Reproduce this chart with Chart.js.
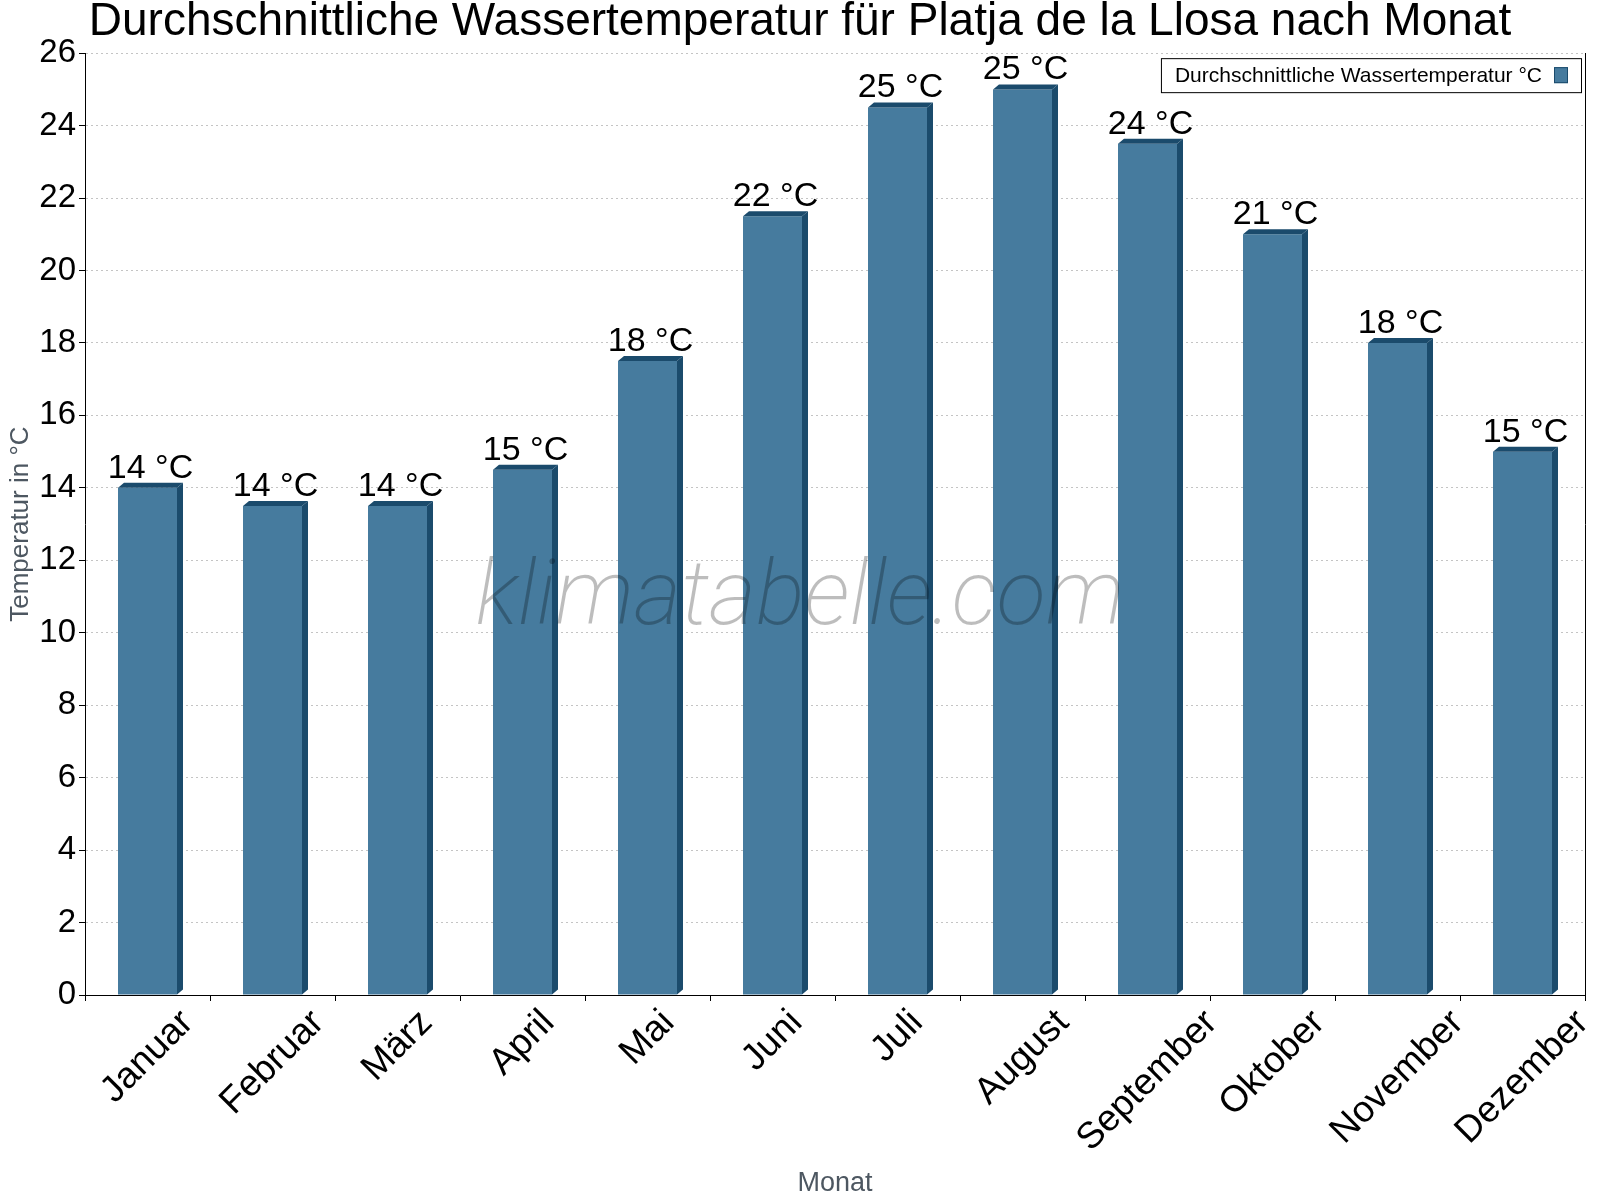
<!DOCTYPE html>
<html>
<head>
<meta charset="utf-8">
<script src="https://cdn.jsdelivr.net/npm/chart.js@4.4.1/dist/chart.umd.min.js"></script>
<style>
  html, body { margin: 0; padding: 0; background: #fff; }
  canvas { display: block; }
</style>
</head>
<body>
<canvas id="myChart" width="1600" height="1200"></canvas>
<script>
// data
var months = ['Januar', 'Februar', 'März', 'April', 'Mai', 'Juni', 'Juli', 'August', 'September', 'Oktober', 'November', 'Dezember'];
var waterTemp = [14, 13.5, 13.5, 14.5, 17.5, 21.5, 24.5, 25, 23.5, 21, 18, 15];
var yTicks = [0, 2, 4, 6, 8, 10, 12, 14, 16, 18, 20, 22, 24, 26];

var FONT = '"Liberation Sans", Arial, Helvetica, sans-serif';
var barColor = '#467b9e';
var sideColor = '#1b4b6c';
var DX = 6, DY = 5;

Chart.defaults.font.family = FONT;
Chart.defaults.color = '#000';

// darker right side and top of each bar
var bar3d = {
    id: 'bar3d',
    afterDatasetsDraw: function (chart) {
        var ctx = chart.ctx;
        ctx.save();
        ctx.fillStyle = sideColor;
        chart.getDatasetMeta(0).data.forEach(function (bar) {
            var l = bar.x - bar.width / 2, r = bar.x + bar.width / 2, t = bar.y, b = bar.base;
            ctx.beginPath();
            ctx.moveTo(r, t);
            ctx.lineTo(r + DX, t - DY);
            ctx.lineTo(r + DX, b - DY);
            ctx.lineTo(r, b);
            ctx.closePath();
            ctx.fill();
            ctx.beginPath();
            ctx.moveTo(l, t);
            ctx.lineTo(l + DX, t - DY);
            ctx.lineTo(r + DX, t - DY);
            ctx.lineTo(r, t);
            ctx.closePath();
            ctx.fill();
        });
        ctx.restore();
    }
};

// watermark, value labels, rotated month labels and the framed legend
var extras = {
    id: 'extras',
    afterDraw: function (chart) {
        var ctx = chart.ctx;
        var area = chart.chartArea;
        var xScale = chart.scales.x;

        ctx.save();
        ctx.font = 'italic 200 91px Roboto, "Open Sans", sans-serif';
        ctx.fillStyle = 'rgba(0, 0, 0, 0.26)';
        ctx.textAlign = 'center';
        ctx.textBaseline = 'alphabetic';
        ctx.fillText('klimatabelle.com', chart.width / 2, 624);
        ctx.restore();

        ctx.save();
        ctx.font = '34px ' + FONT;
        ctx.fillStyle = '#000';
        ctx.textAlign = 'center';
        ctx.textBaseline = 'alphabetic';
        chart.getDatasetMeta(0).data.forEach(function (bar, i) {
            ctx.fillText(Math.round(waterTemp[i]) + ' °C', bar.x + 3, bar.y - 10);
        });
        ctx.restore();

        ctx.save();
        ctx.font = '37px ' + FONT;
        ctx.fillStyle = '#000';
        ctx.textAlign = 'center';
        ctx.textBaseline = 'middle';
        months.forEach(function (m, i) {
            var w = ctx.measureText(m).width;
            var cx = xScale.getPixelForValue(i);
            var cy = area.bottom + 22 + w * 0.3536;
            ctx.save();
            ctx.translate(cx, cy);
            ctx.rotate(-Math.PI / 4);
            ctx.fillText(m, 0, 0);
            ctx.restore();
        });
        ctx.restore();

        ctx.save();
        var label = chart.data.datasets[0].label;
        ctx.font = '21px ' + FONT;
        var tw = ctx.measureText(label).width;
        var boxR = area.right - 4, boxT = area.top + 5, boxH = 34;
        var swR = boxR - 13, swL = swR - 14;
        var textR = swL - 12;
        var boxL = textR - tw - 14;
        ctx.fillStyle = '#fff';
        ctx.fillRect(boxL, boxT, boxR - boxL, boxH);
        ctx.strokeStyle = '#000';
        ctx.lineWidth = 1;
        ctx.strokeRect(boxL + 0.5, boxT + 0.5, boxR - boxL, boxH);
        ctx.fillStyle = '#000';
        ctx.textAlign = 'right';
        ctx.textBaseline = 'middle';
        ctx.fillText(label, textR, boxT + boxH / 2 + 1);
        ctx.fillStyle = barColor;
        ctx.fillRect(swL, boxT + 9, 14, 16);
        ctx.strokeStyle = sideColor;
        ctx.strokeRect(swL + 0.5, boxT + 9.5, 13, 15);
        ctx.restore();
    }
};

var ctx = document.getElementById('myChart').getContext('2d');
var chart = new Chart(ctx, {
    type: 'bar',
    data: {
        labels: months,
        datasets: [{
            label: 'Durchschnittliche Wassertemperatur °C',
            data: waterTemp,
            backgroundColor: barColor,
            borderWidth: 0,
            barPercentage: 0.472,
            categoryPercentage: 1
        }]
    },
    options: {
        responsive: false,
        animation: false,
        devicePixelRatio: 1,
        layout: { padding: 0 },
        plugins: {
            legend: { display: false },
            tooltip: { enabled: false },
            title: {
                display: true,
                text: 'Durchschnittliche Wassertemperatur für Platja de la Llosa nach Monat',
                color: '#000',
                font: { size: 46, weight: 'normal', lineHeight: 0.96 },
                padding: { top: 0, bottom: 9 }
            }
        },
        scales: {
            x: {
                grid: {
                    display: true,
                    drawOnChartArea: false,
                    drawTicks: true,
                    tickLength: 6,
                    tickColor: '#000',
                    offset: true
                },
                border: { display: true, color: '#000', width: 1 },
                ticks: { display: false },
                title: {
                    display: true,
                    text: 'Monat',
                    color: '#4d5761',
                    font: { size: 27 },
                    padding: { top: 0, bottom: 0 }
                },
                afterFit: function (scale) { scale.height = 205; }
            },
            y: {
                min: 0,
                max: 26,
                afterBuildTicks: function (scale) {
                    scale.ticks = yTicks.map(function (v) { return { value: v }; });
                },
                grid: {
                    color: '#c4c4c4',
                    lineWidth: 1,
                    tickLength: 6,
                    tickColor: '#000',
                    tickBorderDash: [],
                    drawTicks: true
                },
                border: { display: true, color: '#000', width: 1, dash: [2, 3] },
                ticks: {
                    color: '#000',
                    font: { size: 33 },
                    padding: 3
                },
                title: {
                    display: true,
                    text: 'Temperatur in °C',
                    color: '#4d5761',
                    font: { size: 26 },
                    padding: { top: 5, bottom: 0 }
                },
                afterFit: function (scale) { scale.width = 85; }
            },
            yRight: {
                type: 'linear',
                position: 'right',
                display: true,
                grid: { display: false },
                ticks: { display: false },
                border: { display: true, color: '#000', width: 1 },
                afterFit: function (scale) { scale.width = 15; }
            }
        }
    },
    plugins: [bar3d, extras]
});
</script>
</body>
</html>
